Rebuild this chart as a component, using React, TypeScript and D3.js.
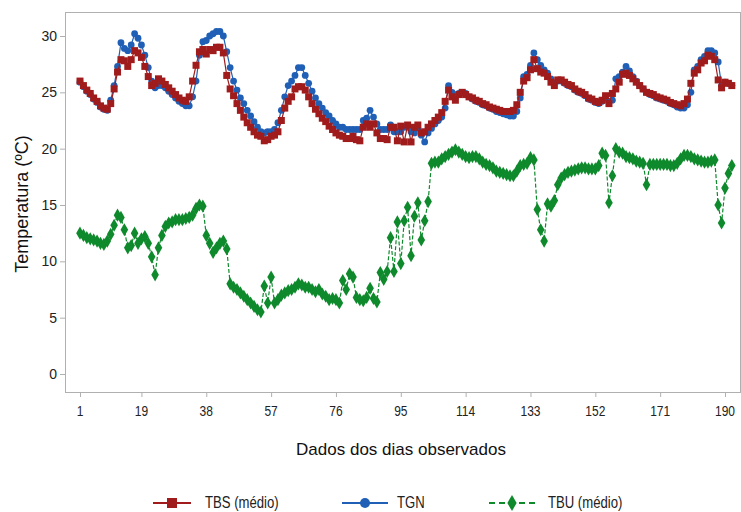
import React from "react";
import * as d3 from "d3";

const TBS: number[] = [
  26.0, 25.6, 25.2, 24.9, 24.5, 24.2, 23.8, 23.6, 23.5, 24.0,
  25.3, 26.8, 27.9, 27.8, 27.3, 27.9, 28.7, 28.5, 28.1, 27.3,
  26.4, 25.6, 25.8, 26.2, 26.0, 25.7, 25.4, 25.1, 24.8, 24.5,
  24.3, 24.2, 24.6, 26.0, 27.4, 28.6, 28.8, 28.4, 28.8, 28.7,
  29.0, 29.0, 28.5, 26.5, 25.3, 24.7, 24.0, 23.4, 22.8, 22.3,
  21.9, 21.5, 21.2, 21.1, 20.7, 20.8, 21.1, 21.2, 21.5, 22.5,
  23.6, 24.2, 24.6, 25.3, 25.5, 25.5, 25.2, 24.6, 24.0, 23.5,
  23.1, 22.7, 22.4, 22.0, 21.7, 21.4, 21.2, 21.1, 20.9, 20.9,
  21.1, 20.8, 20.7, 21.9, 22.2, 21.9, 22.2, 21.4, 20.9, 20.9,
  20.8, 21.9, 21.9, 20.7, 22.0, 20.6, 22.1, 20.6, 21.9, 22.1,
  21.4, 21.5, 21.9, 22.2, 22.5, 22.8, 23.2, 24.2, 25.2, 24.6,
  24.3, 24.8, 25.0, 24.8, 24.6, 24.5, 24.3, 24.2, 24.0, 23.9,
  23.7, 23.6, 23.5, 23.4, 23.3, 23.3, 23.3, 23.4, 23.9, 25.0,
  26.0, 26.3, 27.0, 27.9, 27.1, 26.8, 26.7, 26.4, 25.9, 25.6,
  26.1, 26.1, 25.9, 25.7, 25.6, 25.3, 25.1, 25.0, 24.8, 24.5,
  24.4, 24.2, 24.1, 24.3, 24.7, 24.0, 24.9, 25.3, 25.9, 26.6,
  26.7, 26.5, 26.2, 25.9, 25.6, 25.3, 25.0, 24.9, 24.8, 24.6,
  24.5, 24.4, 24.3, 24.1, 24.0, 23.9, 23.8, 24.0, 24.4, 25.8,
  26.7, 27.0, 27.6, 27.8, 28.3, 28.2, 27.9, 26.1, 25.4, 25.9,
  25.8, 25.6,
];

const TGN: number[] = [
  25.9, 25.5, 25.1, 24.8, 24.4, 24.1, 23.7, 23.5, 23.4, 24.3,
  25.6, 27.3, 29.4, 28.9, 28.7, 29.2, 30.2, 29.8, 29.2, 28.3,
  27.2, 26.0, 25.4, 25.6, 25.6, 25.4, 25.1, 24.8, 24.5, 24.2,
  24.0, 23.8, 23.8, 24.6, 26.0, 28.3, 29.5, 29.6, 30.0, 30.2,
  30.4, 30.4, 30.0, 28.6, 27.2, 26.0, 25.2, 24.5, 24.0, 23.4,
  22.9, 22.4, 21.9, 21.5, 21.4, 21.5, 21.5, 21.7, 22.3, 23.4,
  24.6, 25.6, 26.0, 26.5, 27.2, 27.2, 26.5, 25.8, 25.1, 24.5,
  24.0, 23.6, 23.2, 22.9, 22.5, 22.2, 21.9, 21.9, 21.7, 21.7,
  21.7, 21.7, 21.7, 22.5, 22.7, 23.4, 22.8, 22.2, 21.7, 21.7,
  21.7, 22.1, 21.5, 21.5, 21.5, 21.9, 21.9, 21.5, 21.4, 21.8,
  21.2, 20.6, 21.4, 21.8, 22.2, 22.5, 22.8, 23.6, 25.6, 25.0,
  24.6, 24.9, 25.0, 24.9, 24.6, 24.4, 24.2, 24.1, 23.9, 23.8,
  23.6, 23.5, 23.3, 23.2, 23.1, 23.0, 22.9, 22.9, 23.3, 24.5,
  26.4, 26.6, 27.4, 28.5, 27.9, 27.4, 27.0, 26.7, 26.2, 25.8,
  26.0, 26.0, 25.8, 25.6, 25.5, 25.2, 25.0, 24.9, 24.7, 24.4,
  24.3, 24.1, 24.0, 24.2, 24.5, 24.2, 24.3, 26.2, 26.4, 26.8,
  27.3, 26.9, 26.4, 26.0, 25.6, 25.3, 25.0, 24.8, 24.7, 24.5,
  24.4, 24.3, 24.2, 24.0, 23.9, 23.7, 23.6, 23.6, 23.9, 25.0,
  27.0, 27.3, 27.9, 28.2, 28.7, 28.7, 28.5, 27.7, 25.6, 25.9,
  25.8, 25.6,
];

const TBU: number[] = [
  12.5, 12.3, 12.1, 12.0, 11.9, 11.8, 11.6, 11.5, 11.8, 12.4,
  13.2, 14.1, 13.9, 12.8, 11.2, 11.4, 12.5, 11.6, 12.0, 12.2,
  11.6, 10.4, 8.8, 11.2, 12.3, 13.1, 13.4, 13.5, 13.7, 13.7,
  13.7, 13.8, 13.9, 14.1, 14.7, 15.0, 14.9, 12.3, 11.6, 10.8,
  11.2, 11.6, 11.8, 11.1, 8.0, 7.7, 7.5, 7.2, 6.9, 6.6,
  6.3, 6.0, 5.7, 5.5, 7.8, 6.3, 8.6, 6.3, 6.6, 7.0,
  7.2, 7.4, 7.5, 7.7, 8.0, 7.9, 7.7, 7.7, 7.5, 7.3,
  7.5, 7.1, 6.9, 6.6, 6.7, 6.6, 6.3, 8.3, 7.5, 8.9,
  8.6, 6.8, 6.6, 6.5, 6.8, 7.6, 6.7, 6.4, 9.0, 8.4,
  9.1, 12.1, 9.1, 13.5, 9.8, 13.6, 14.8, 10.5, 14.0, 15.2,
  11.9, 13.6, 15.3, 18.7, 18.8, 18.8, 19.1, 19.3, 19.5, 19.7,
  19.9, 19.7, 19.5, 19.3, 19.2, 19.3, 19.3, 19.1, 18.8, 18.6,
  18.5, 18.3, 18.0, 17.9, 17.8, 17.7, 17.6, 17.6, 18.0, 18.5,
  18.6, 18.7, 19.2, 19.0, 14.6, 12.8, 11.8, 15.1, 14.9, 15.4,
  16.8, 17.4, 17.7, 17.9, 18.0, 18.1, 18.2, 18.3, 18.3, 18.2,
  18.2, 18.2, 18.5, 19.6, 19.4, 15.2, 17.6, 20.0, 19.7, 19.6,
  19.3, 19.2, 19.1, 18.9, 18.8, 18.7, 16.8, 18.6, 18.6, 18.6,
  18.6, 18.6, 18.6, 18.5, 18.5, 18.7, 19.1, 19.4, 19.4, 19.3,
  19.1, 19.0, 18.9, 18.8, 18.8, 18.9, 19.0, 15.0, 13.4, 16.5,
  17.8, 18.5,
];

const X_TICKS: number[] = [1, 19, 38, 57, 76, 95, 114, 133, 152, 171, 190];
const Y_TICKS: number[] = [0, 5, 10, 15, 20, 25, 30];

const RED = "#A01C1C";
const BLUE = "#1F5FB6";
const GREEN = "#0E8A2C";

const W = 741;
const H = 512;
const FRAME = { left: 65, right: 740, top: 12, bottom: 392 };

function Narrow(props: {
  x: number;
  y: number;
  anchor?: "start" | "middle" | "end";
  size: number;
  sx: number;
  children: React.ReactNode;
}) {
  return (
    <text
      transform={`translate(${props.x},${props.y}) scale(${props.sx},1)`}
      textAnchor={props.anchor ?? "start"}
      fontFamily="'Liberation Sans', Arial, sans-serif"
      fontSize={props.size}
      fill="#222"
    >
      {props.children}
    </text>
  );
}

export default function App() {
  const x = d3.scaleLinear().domain([1, 190]).range([80, 725]);
  const y = d3.scaleLinear().domain([0, 30]).range([374, 36]);

  const line = (data: number[]) =>
    d3
      .line<number>()
      .x((_, i) => x(i + 1))
      .y((d) => y(d))(data) as string;

  const sq = 7;
  const dia = d3.symbol().type(d3.symbolDiamond).size(50)() as string;
  const dia2 = d3.symbol().type(d3.symbolDiamond).size(75)() as string;

  const sans = "'Liberation Sans', Arial, sans-serif";

  return (
    <svg
      width={W}
      height={H}
      style={{ position: "absolute", left: 0, top: 0, background: "#fff" }}
    >
      <rect x={0} y={0} width={W} height={H} fill="#fff" />
      <rect
        x={FRAME.left + 0.5}
        y={FRAME.top + 0.5}
        width={FRAME.right - FRAME.left}
        height={FRAME.bottom - FRAME.top}
        fill="none"
        stroke="#B0B0B0"
        strokeWidth={1}
      />
      {Y_TICKS.map((t) => (
        <g key={"y" + t}>
          <line x1={FRAME.left - 5} x2={FRAME.left} y1={y(t) + 0.5} y2={y(t) + 0.5} stroke="#B0B0B0" />
          <text
            x={FRAME.left - 8}
            y={y(t)}
            dy="0.35em"
            textAnchor="end"
            fontFamily={sans}
            fontSize={14}
            fill="#222"
          >
            {t}
          </text>
        </g>
      ))}
      {X_TICKS.map((t) => (
        <g key={"x" + t}>
          <line x1={x(t) + 0.5} x2={x(t) + 0.5} y1={FRAME.bottom} y2={FRAME.bottom + 5} stroke="#B0B0B0" />
          <Narrow x={x(t)} y={FRAME.bottom + 24} anchor="middle" size={15} sx={0.8}>
            {t}
          </Narrow>
        </g>
      ))}
      <text
        x={401}
        y={455}
        textAnchor="middle"
        fontFamily={sans}
        fontSize={17}
        fill="#111"
      >
        Dados dos dias observados
      </text>
      <text
        transform={`translate(28, ${(FRAME.top + FRAME.bottom) / 2 + 2}) rotate(-90)`}
        textAnchor="middle"
        fontFamily={sans}
        fontSize={18}
        fill="#111"
      >
        Temperatura (ºC)
      </text>

      <path d={line(TGN)} fill="none" stroke={BLUE} strokeWidth={1.2} />
      {TGN.map((v, i) => (
        <circle key={"g" + i} cx={x(i + 1)} cy={y(v)} r={3.4} fill={BLUE} />
      ))}
      <path d={line(TBS)} fill="none" stroke={RED} strokeWidth={1.2} />
      {TBS.map((v, i) => (
        <rect key={"s" + i} x={x(i + 1) - sq / 2} y={y(v) - sq / 2} width={sq} height={sq} fill={RED} />
      ))}
      <path d={line(TBU)} fill="none" stroke={GREEN} strokeWidth={1.2} strokeDasharray="4,2" />
      {TBU.map((v, i) => (
        <path key={"u" + i} d={dia} transform={`translate(${x(i + 1)},${y(v)})`} fill={GREEN} />
      ))}

      <g>
        <line x1={153} x2={191} y1={503} y2={503} stroke={RED} strokeWidth={2} />
        <rect x={167} y={498} width={10} height={10} fill={RED} />
        <Narrow x={205} y={508} size={16} sx={0.82}>TBS (médio)</Narrow>

        <line x1={342} x2={388} y1={503} y2={503} stroke={BLUE} strokeWidth={2} />
        <circle cx={365} cy={503} r={5} fill={BLUE} />
        <Narrow x={397} y={508} size={16} sx={0.82}>TGN</Narrow>

        <line x1={489} x2={536} y1={503} y2={503} stroke={GREEN} strokeWidth={2} strokeDasharray="6,4" />
        <path d={dia2} transform="translate(512,503)" fill={GREEN} />
        <Narrow x={548} y={508} size={16} sx={0.82}>TBU (médio)</Narrow>
      </g>
    </svg>
  );
}
